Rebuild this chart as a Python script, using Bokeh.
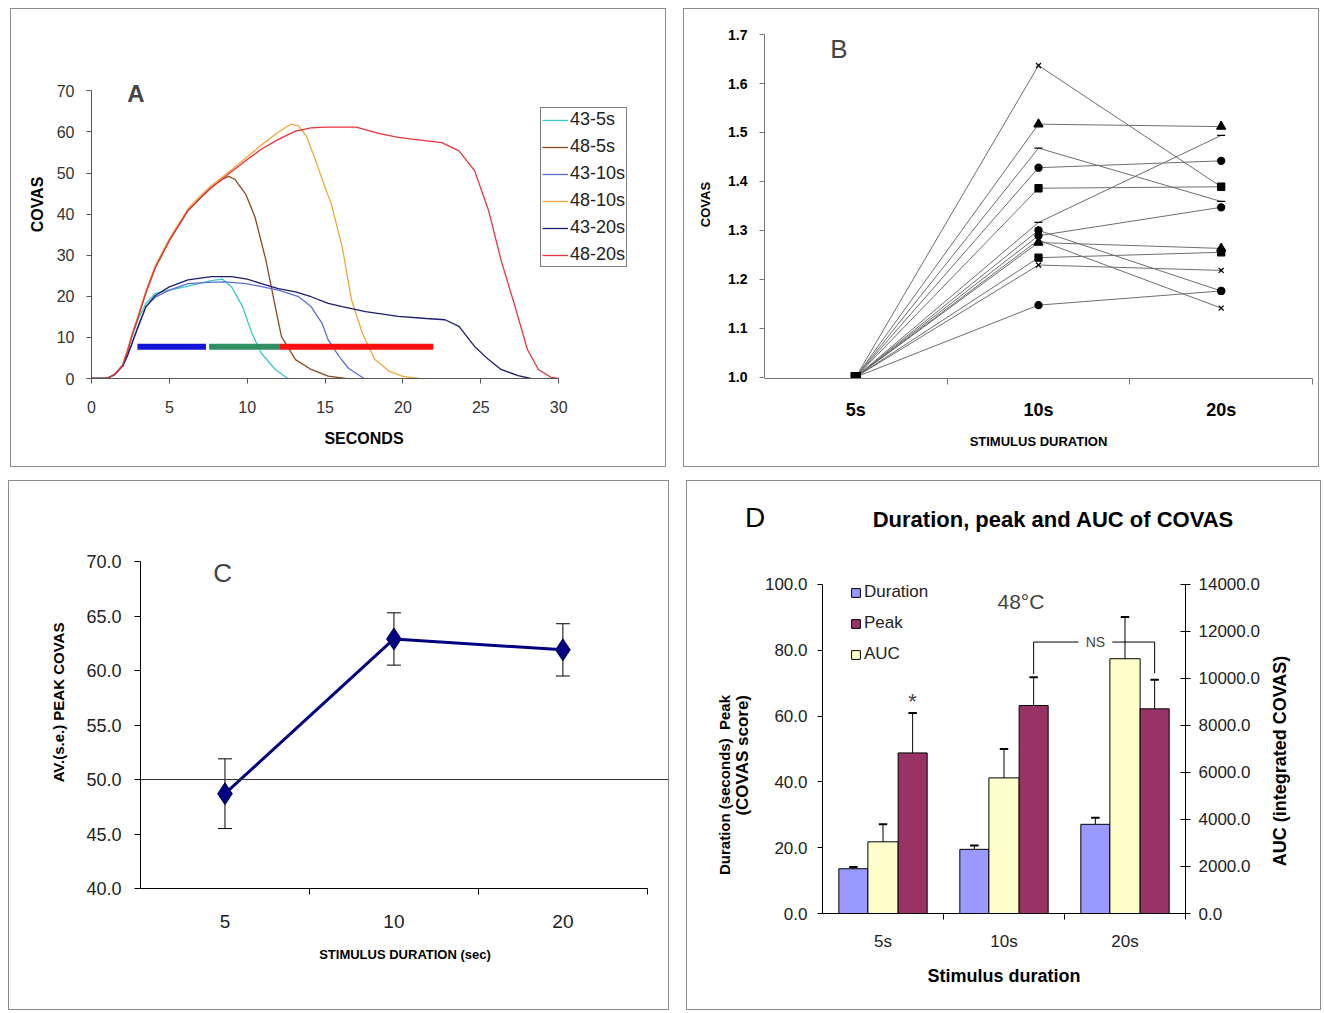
import math
from bokeh.plotting import figure
from bokeh.layouts import row, column
from bokeh.models import (Range1d, LinearAxis, FixedTicker, Legend, LegendItem,
                          Label, ColumnDataSource, Whisker, TeeHead, Span, Div,
                          NumeralTickFormatter)
from bokeh.embed import file_html
from bokeh.resources import INLINE

# ---------------- data ----------------
# Panel A: COVAS time courses (seconds, COVAS)
a_names = ["43-5s", "48-5s", "43-10s", "48-10s", "43-20s", "48-20s"]
t_43_5s = [0, 1.0, 1.5, 2.0, 2.3, 2.6, 3.0, 3.5, 4.1, 5.0, 6.0, 7.0, 7.7, 8.4, 9.0, 9.7, 10.3, 10.9, 11.8, 12.6]
v_43_5s = [0, 0, 1.0, 3.4, 6.5, 10.2, 14.5, 18.3, 20.7, 21.5, 22.3, 23.2, 23.8, 24.2, 22.3, 17.5, 11.0, 6.2, 2.2, 0]
t_48_5s = [0, 1.0, 1.5, 2.0, 2.3, 2.6, 3.0, 3.5, 4.1, 5.0, 6.2, 7.0, 7.7, 8.4, 8.8, 9.2, 9.9, 10.5, 11.2, 11.8, 12.2, 13.1, 14.1, 15.2, 16.3]
v_48_5s = [0, 0, 1.0, 3.2, 6.5, 10.5, 15.0, 21.0, 27.0, 33.6, 40.9, 44.0, 46.5, 48.5, 49.2, 48.5, 44.9, 39.3, 28.8, 17.5, 10.2, 4.6, 2.2, 0.6, 0]
t_43_10s = [0, 1.0, 1.5, 2.0, 2.3, 2.6, 3.0, 3.5, 4.1, 5.0, 6.2, 7.5, 8.6, 9.9, 11.0, 12.0, 13.3, 14.1, 14.8, 15.2, 15.9, 16.5, 17.5]
v_43_10s = [0, 0, 1.0, 3.0, 5.5, 8.5, 12.5, 17.5, 19.8, 21.5, 23.1, 23.4, 23.5, 23.1, 22.3, 21.5, 19.9, 17.5, 13.5, 9.4, 5.4, 2.5, 0]
t_48_10s = [0, 1.0, 1.5, 2.0, 2.3, 2.6, 3.0, 3.5, 4.1, 5.0, 6.2, 7.0, 7.7, 8.8, 9.9, 10.9, 12.0, 12.8, 13.3, 13.8, 14.4, 15.0, 15.4, 16.1, 16.7, 17.4, 18.2, 19.1, 20.0, 21.0]
v_48_10s = [0, 0, 1.0, 3.3, 6.8, 10.8, 15.4, 21.4, 27.5, 34.0, 41.3, 44.5, 47.0, 50.2, 53.6, 56.8, 60.0, 61.9, 61.5, 59.0, 53.0, 46.5, 42.5, 32.0, 19.1, 11.0, 4.6, 1.8, 0.5, 0]
t_43_20s = [0, 1.0, 1.5, 2.0, 2.3, 2.6, 3.0, 3.5, 4.1, 5.0, 6.2, 7.7, 9.0, 10.0, 10.9, 12.0, 13.1, 14.1, 15.2, 16.1, 17.6, 19.7, 21.5, 22.7, 23.6, 24.6, 25.5, 26.3, 27.4, 28.2]
v_43_20s = [0, 0, 1.0, 3.0, 5.5, 8.6, 12.8, 17.5, 20.2, 22.3, 24.0, 24.8, 24.8, 24.2, 23.1, 21.9, 21.1, 19.9, 18.3, 17.5, 16.3, 15.1, 14.6, 14.3, 12.7, 7.8, 4.6, 2.2, 0.7, 0]
t_48_20s = [0, 1.0, 1.5, 2.0, 2.3, 2.6, 3.0, 3.5, 4.1, 5.0, 6.2, 7.0, 7.7, 8.8, 9.9, 10.9, 12.0, 13.1, 14.1, 15.0, 17.0, 18.5, 19.7, 21.0, 22.5, 23.6, 24.6, 25.5, 26.3, 27.2, 28.0, 28.7, 29.5, 30.0]
v_48_20s = [0, 0, 1.0, 3.2, 6.5, 10.5, 15.0, 21.0, 27.0, 33.6, 40.9, 44.0, 46.5, 49.8, 53.0, 55.8, 58.2, 60.2, 61.0, 61.2, 61.2, 59.6, 58.7, 58.1, 57.4, 55.4, 50.6, 40.9, 28.8, 17.5, 7.0, 2.2, 0.3, 0]
a_bar_start = [2.95, 7.55, 12.05]
a_bar_end = [7.35, 12.05, 21.95]
a_bar_level = [7.7, 7.7, 7.7]
a_xticks = [0, 5, 10, 15, 20, 25, 30]
a_yticks = [0, 10, 20, 30, 40, 50, 60, 70]

# Panel B: normalised COVAS per subject
b_durations = ["5s", "10s", "20s"]
b_at5 = [1.0, 1.0, 1.0, 1.0, 1.0, 1.0, 1.0, 1.0, 1.0, 1.0, 1.0, 1.0, 1.0]
b_at10 = [1.637, 1.517, 1.468, 1.428, 1.386, 1.316, 1.289, 1.275, 1.300, 1.280, 1.244, 1.229, 1.147]
b_at20 = [1.389, 1.512, 1.359, 1.442, 1.389, 1.494, 1.347, 1.263, 1.176, 1.141, 1.255, 1.218, 1.176]
b_markers = ["x", "triangle", "dash", "circle", "square", "dash", "circle",
             "triangle", "circle", "x", "square", "x", "circle"]
b_yticks = [1.0, 1.1, 1.2, 1.3, 1.4, 1.5, 1.6, 1.7]

# Panel C: average peak COVAS
c_durations = ["5", "10", "20"]
c_mean = [48.7, 62.9, 61.9]
c_se = [3.2, 2.4, 2.4]
c_yticks = [40, 45, 50, 55, 60, 65, 70]

# Panel D: duration, peak, AUC at 48C
d_durations = ["5s", "10s", "20s"]
d_duration = [13.6, 19.5, 27.1]
d_duration_se = [0.5, 1.2, 2.0]
d_peak = [48.8, 63.2, 62.2]
d_peak_se = [12.1, 8.6, 8.8]
d_auc = [3050, 5770, 10840]
d_auc_se = [750, 1230, 1780]
d_yticks = [0, 20, 40, 60, 80, 100]
d_auc_ticks = [0, 2000, 4000, 6000, 8000, 10000, 12000, 14000]

# ---------------- helpers ----------------
FONT = "Liberation Sans"
BC = "1px solid #8c8c8c"


def make_fig(w, h, xr, yr, left, right, top, bottom, styles):
    p = figure(width=w, height=h, x_range=xr, y_range=yr,
               output_backend="svg", toolbar_location=None,
               min_border_left=left, min_border_right=right,
               min_border_top=top, min_border_bottom=bottom)
    p.grid.visible = False
    p.outline_line_color = None
    p.styles = styles
    return p


def style_axis(ax, size, color="#333333", bold=False, title_size="13px", line="#555555"):
    ax.axis_line_color = line
    ax.major_tick_line_color = line
    ax.minor_tick_line_color = line
    ax.major_tick_in = 0
    ax.major_tick_out = 5
    ax.minor_tick_in = 0
    ax.minor_tick_out = 0
    ax.major_label_text_font = FONT
    ax.major_label_text_font_size = size
    ax.major_label_text_color = color
    ax.major_label_text_font_style = "bold" if bold else "normal"
    ax.axis_label_text_font = FONT
    ax.axis_label_text_font_style = "bold"
    ax.axis_label_text_font_size = title_size
    ax.axis_label_text_color = "black"


def cat_axis(ax, labels):
    centers = [i + 0.5 for i in range(len(labels))]
    ax.ticker = FixedTicker(ticks=centers, minor_ticks=[i + 1 for i in range(len(labels))])
    ax.major_label_overrides = {c: l for c, l in zip(centers, labels)}
    ax.major_tick_out = 0
    ax.major_tick_line_color = None
    ax.minor_tick_out = 6
    return centers


FULL = {"border": BC}

# ---------------- Panel A ----------------
pA = make_fig(656, 459, Range1d(0, 35), Range1d(0, 84.7), 80, 31, 21, 90, FULL)
a_t = [t_43_5s, t_48_5s, t_43_10s, t_48_10s, t_43_20s, t_48_20s]
a_v = [v_43_5s, v_48_5s, v_43_10s, v_48_10s, v_43_20s, v_48_20s]
a_colors = ["#3cc8c8", "#8b4a1e", "#5b6fd6", "#f0a83a", "#1c1c6e", "#e8323c"]
items = []
for name, t, v, col in zip(a_names, a_t, a_v, a_colors):
    r = pA.line(t, v, line_color=col, line_width=1.3)
    items.append(LegendItem(label=name, renderers=[r]))
pA.segment(x0=a_bar_start, y0=a_bar_level, x1=a_bar_end, y1=a_bar_level,
           line_color=["#1515d8", "#2f8f62", "#ff1010"], line_width=6, line_cap="butt")
legA = Legend(items=items, location=(449, 111), border_line_color="black",
              border_line_width=1, background_fill_color="white", background_fill_alpha=1,
              label_text_font=FONT, label_text_font_size="18px", label_text_color="#222222",
              glyph_width=26, glyph_height=20, label_height=20, label_standoff=2,
              spacing=6, padding=1, margin=0)
pA.add_layout(legA)
xa = pA.xaxis[0]
style_axis(xa, "16px", title_size="16px")
xa.ticker = FixedTicker(ticks=a_xticks)
xa.bounds = (0, 30)
xa.axis_label = "SECONDS"
xa.major_label_standoff = 17
xa.axis_label_standoff = 14
ya = pA.yaxis[0]
style_axis(ya, "16px", title_size="16px")
ya.ticker = FixedTicker(ticks=a_yticks)
ya.bounds = (0, 70)
ya.axis_label = "COVAS"
ya.major_label_standoff = 12
ya.axis_label_standoff = 8
pA.add_layout(Label(x=2.3, y=69.3, text="A", text_font=FONT, text_font_size="24px",
                    text_font_style="bold", text_baseline="middle"))
pA.margin = (8, 0, 0, 10)

# ---------------- Panel B ----------------
pB = make_fig(636, 459, Range1d(0, 3), Range1d(0.997, 1.7085), 80, 8, 21, 90, FULL)
bx = [i + 0.5 for i in range(len(b_durations))]
for y5, y10, y20 in zip(b_at5, b_at10, b_at20):
    pB.line(bx, [y5, y10, y20], line_color="#6e6e6e", line_width=1)
sx, sy, sm, ss = [], [], [], []
msize = {"x": 7, "triangle": 9, "dash": 8, "circle": 7, "square": 7}
for y5, y10, y20, m in zip(b_at5, b_at10, b_at20, b_markers):
    for xx, yy in zip(bx, [y5, y10, y20]):
        sx.append(xx); sy.append(yy); sm.append(m if xx > bx[0] else "square"); ss.append(msize[m])
pB.scatter(x="x", y="y", marker="m", size="s", source=ColumnDataSource(dict(x=sx, y=sy, m=sm, s=ss)),
           fill_color="black", line_color="black", line_width=1.3)
xb = pB.xaxis[0]
style_axis(xb, "18px", color="black", bold=True, line="#777777")
cat_axis(xb, b_durations)
xb.axis_label = "STIMULUS DURATION"
xb.major_label_standoff = 15
xb.axis_label_standoff = 11
yb = pB.yaxis[0]
style_axis(yb, "14px", color="black", bold=True, line="#777777")
yb.ticker = FixedTicker(ticks=b_yticks)
yb.bounds = (1.0, 1.7)
yb.formatter = NumeralTickFormatter(format="0.0")
yb.axis_label = "COVAS"
yb.major_label_standoff = 12
yb.axis_label_standoff = 12
pB.add_layout(Label(x=0.36, y=1.670, text="B", text_font=FONT, text_font_size="26px",
                    text_baseline="middle"))
pB.margin = (8, 0, 0, 17)

# ---------------- Panel C ----------------
pC = make_fig(661, 504, Range1d(0, 3.131), Range1d(40, 74.14), 131, 1, 35, 97,
              {"border-top": BC, "border-left": BC, "border-right": BC})
cx = [i + 0.5 for i in range(len(c_durations))]
pC.add_layout(Span(location=50, dimension="width", line_color="#333333", line_width=1))
c_src = ColumnDataSource(dict(x=cx, y=c_mean,
                              lo=[m - s for m, s in zip(c_mean, c_se)],
                              hi=[m + s for m, s in zip(c_mean, c_se)]))
pC.add_layout(Whisker(base="x", lower="lo", upper="hi", source=c_src, line_color="black",
                      line_width=1,
                      lower_head=TeeHead(size=14, line_color="black", line_width=1),
                      upper_head=TeeHead(size=14, line_color="black", line_width=1)))
pC.line("x", "y", source=c_src, line_color="#000080", line_width=3)
pC.scatter("x", "y", source=c_src, marker="diamond", size=22, fill_color="#000080",
           line_color="#00005a", line_width=1)
xc = pC.xaxis[0]
style_axis(xc, "19px", color="#222222", line="black")
cat_axis(xc, c_durations)
xc.bounds = (0, 3)
xc.axis_label = "STIMULUS DURATION (sec)"
xc.major_label_standoff = 20
xc.axis_label_standoff = 16
yc = pC.yaxis[0]
style_axis(yc, "18px", color="#222222", title_size="15px", line="black")
yc.ticker = FixedTicker(ticks=c_yticks)
yc.bounds = (40, 70)
yc.formatter = NumeralTickFormatter(format="0.0")
yc.major_tick_out = 6
yc.axis_label = "AV.(s.e.) PEAK COVAS"
yc.major_label_standoff = 13
yc.axis_label_standoff = 16
pC.add_layout(Label(x=0.43, y=69.0, text="C", text_font=FONT, text_font_size="26px",
                    text_baseline="middle"))
footC = Div(text="", width=661, height=26, margin=(0, 0, 0, 0),
            styles={"border-left": BC, "border-right": BC, "border-bottom": BC})

# ---------------- Panel D ----------------
headD = Div(text=(
    '<div style="position:relative;width:633px;height:64px;font-family:\'Liberation Sans\';color:black">'
    '<span style="position:absolute;left:58px;top:21px;font-size:28px;line-height:32px">D</span>'
    '<span style="position:absolute;left:366px;top:27px;transform:translateX(-50%);white-space:nowrap;'
    'font-size:22px;line-height:24px;font-weight:bold">Duration, peak and AUC of COVAS</span>'
    '</div>'), width=635, height=65, margin=(0, 0, 0, 0),
    styles={"border-top": BC, "border-left": BC, "border-right": BC})
leftD = Div(text=(
    '<div style="position:relative;width:69px;height:464px">'
    '<div style="position:absolute;left:47px;top:240px;width:180px;'
    'transform:translate(-50%,-50%) rotate(-90deg);text-align:right;white-space:nowrap;'
    'font-family:\'Liberation Sans\';font-weight:bold;font-size:15px;line-height:18px;color:black">'
    'Duration (seconds)&nbsp; Peak<br><span style="font-size:17px">(COVAS score)</span></div></div>'),
    width=70, height=465, margin=(0, 0, 0, 0),
    styles={"border-left": BC, "border-bottom": BC})
rightD = Div(text=(
    '<div style="position:relative;width:52px;height:464px">'
    '<div style="position:absolute;left:12px;top:216px;'
    'transform:translate(-50%,-50%) rotate(-90deg);white-space:nowrap;'
    'font-family:\'Liberation Sans\';font-weight:bold;font-size:18px;line-height:20px;color:black">'
    'AUC (integrated COVAS)</div></div>'),
    width=53, height=465, margin=(0, 0, 0, 0),
    styles={"border-right": BC, "border-bottom": BC})
pD = make_fig(512, 465, Range1d(0, 3), Range1d(0, 101.2), 66, 83, 35, 97,
              {"border-bottom": BC})
pD.extra_y_ranges = {"auc": Range1d(0, 14168)}
dx = [i + 0.5 for i in range(len(d_durations))]
off = 0.245
bw = 0.24
x_dur = [x - off for x in dx]
x_peak = [x + off for x in dx]
r_dur = pD.vbar(x=x_dur, top=d_duration, width=bw, fill_color="#9999ff", line_color="black", line_width=1)
r_auc = pD.vbar(x=dx, top=d_auc, width=bw + 0.01, fill_color="#ffffcc", line_color="black",
                line_width=1, y_range_name="auc")
r_peak = pD.vbar(x=x_peak, top=d_peak, width=bw, fill_color="#993366", line_color="black", line_width=1)
cap = 0.035
for xs_, m_, s_, rn in [(x_dur, d_duration, d_duration_se, "default"),
                        (dx, d_auc, d_auc_se, "auc"),
                        (x_peak, d_peak, d_peak_se, "default")]:
    tops = [a + b for a, b in zip(m_, s_)]
    pD.segment(x0=xs_, y0=m_, x1=xs_, y1=tops, line_color="black", line_width=1, y_range_name=rn)
    pD.segment(x0=[x - cap for x in xs_], y0=tops, x1=[x + cap for x in xs_], y1=tops,
               line_color="black", line_width=2, y_range_name=rn)
# NS bracket between 10s and 20s peak
ns_y = 82.5
pD.segment(x0=[x_peak[1], x_peak[1], 2.395, x_peak[2]],
           y0=[d_peak[1] + d_peak_se[1] + 1.0, ns_y, ns_y, ns_y],
           x1=[x_peak[1], 2.115, x_peak[2], x_peak[2]],
           y1=[ns_y, ns_y, ns_y, d_peak[2] + d_peak_se[2] + 2.0],
           line_color="black", line_width=1)
pD.add_layout(Label(x=(2.115 + 2.395) / 2, y=ns_y, text="NS", text_font=FONT, text_font_size="14px",
                    text_align="center", text_baseline="middle"))
pD.add_layout(Label(x=x_peak[0], y=d_peak[0] + d_peak_se[0] + 3.5, text="*", text_font=FONT,
                    text_font_size="22px", text_align="center", text_baseline="middle"))
pD.add_layout(Label(x=1.64, y=94.8, text="48°C", text_font=FONT, text_font_size="21px",
                    text_align="center", text_baseline="middle"))
legD = Legend(items=[LegendItem(label="Duration", renderers=[r_dur]),
                     LegendItem(label="Peak", renderers=[r_peak]),
                     LegendItem(label="AUC", renderers=[r_auc])],
              location=(28, 249), border_line_color=None, background_fill_alpha=0,
              label_text_font=FONT, label_text_font_size="17px", label_text_color="#222222",
              glyph_width=11, glyph_height=11, label_height=20, label_standoff=3,
              spacing=11, padding=0, margin=0)
pD.add_layout(legD)
xd = pD.xaxis[0]
style_axis(xd, "17px", color="#222222", title_size="18px", line="black")
cat_axis(xd, d_durations)
xd.axis_label = "Stimulus duration"
xd.major_label_standoff = 12
xd.axis_label_standoff = 12
yd = pD.yaxis[0]
style_axis(yd, "17px", color="#222222", line="black")
yd.ticker = FixedTicker(ticks=d_yticks)
yd.bounds = (0, 100)
yd.formatter = NumeralTickFormatter(format="0.0")
yd.major_label_standoff = 10
yr = LinearAxis(y_range_name="auc", ticker=FixedTicker(ticks=d_auc_ticks),
                formatter=NumeralTickFormatter(format="0.0"))
style_axis(yr, "17px", color="#222222", line="black")
yr.bounds = (0, 14000)
yr.major_tick_in = 5
yr.major_tick_out = 5
yr.major_label_standoff = 8
pD.add_layout(yr, "right")

colC = column(pC, footC, spacing=0, margin=(13, 0, 0, 8))
colD = column(headD, row(leftD, pD, rightD, spacing=0), spacing=0, margin=(13, 0, 0, 17))
layout = column(row(pA, pB, spacing=0), row(colC, colD, spacing=0), spacing=0)
open("out.html", "w").write(file_html(layout, INLINE))
